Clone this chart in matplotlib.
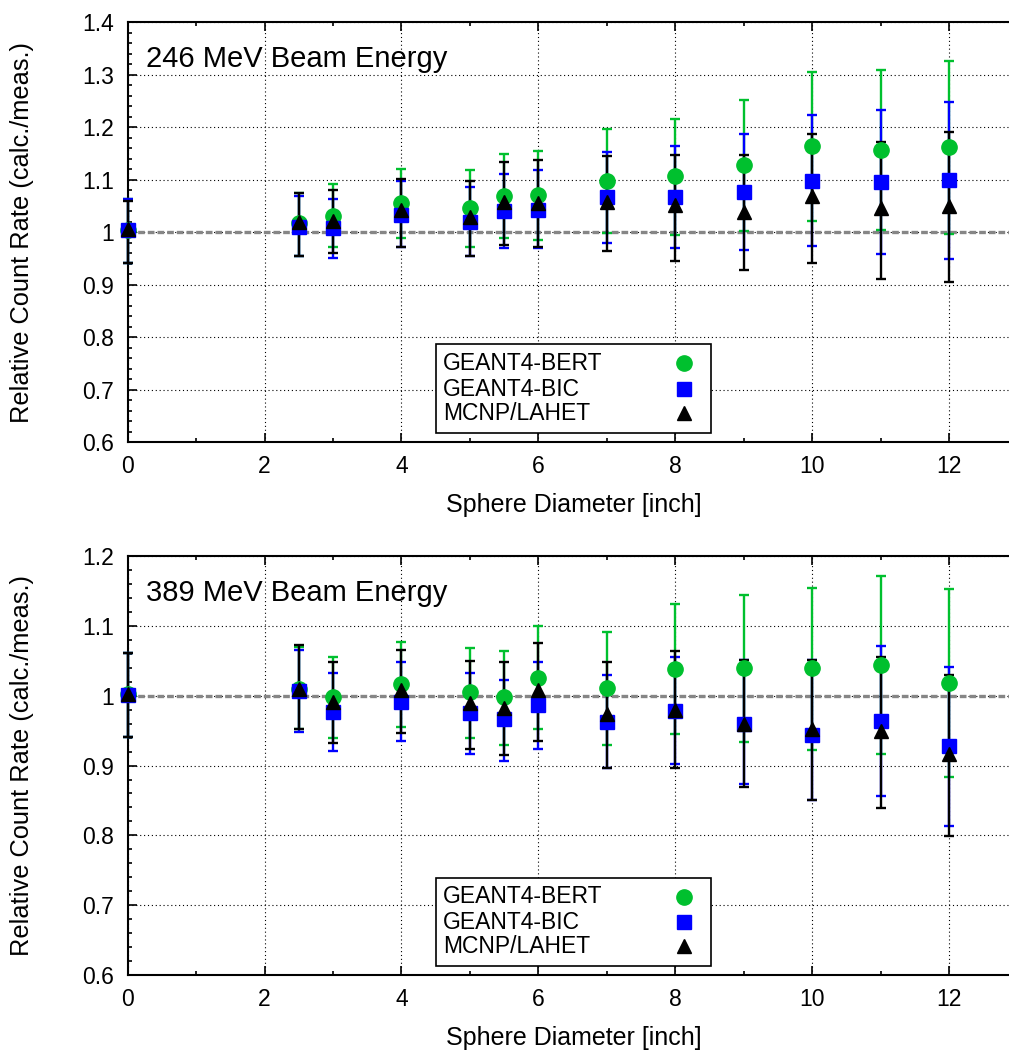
import numpy as np
import matplotlib
matplotlib.use("Agg")
import matplotlib.pyplot as plt
from matplotlib.ticker import MultipleLocator, FuncFormatter

plt.rcParams['font.family'] = ['Liberation Sans', 'DejaVu Sans']

# diametri delle sfere [inch]
diam = [0, 2.5, 3, 4, 5, 5.5, 6, 7, 8, 9, 10, 11, 12]

# 246 MeV
bert_246 = [1.004, 1.017, 1.031, 1.056, 1.045, 1.069, 1.070, 1.098, 1.107, 1.128, 1.164, 1.156, 1.162]
bert_246_lo = [0.942, 0.955, 0.971, 0.988, 0.971, 0.989, 0.985, 0.999, 0.995, 1.002, 1.022, 1.004, 0.997]
bert_246_hi = [1.063, 1.075, 1.091, 1.121, 1.118, 1.148, 1.154, 1.196, 1.216, 1.251, 1.305, 1.309, 1.326]

bic_246 = [1.003, 1.010, 1.007, 1.032, 1.020, 1.041, 1.042, 1.067, 1.067, 1.077, 1.098, 1.096, 1.100]
bic_246_lo = [0.942, 0.955, 0.950, 0.972, 0.954, 0.970, 0.969, 0.980, 0.969, 0.966, 0.973, 0.959, 0.949]
bic_246_hi = [1.063, 1.069, 1.063, 1.098, 1.085, 1.110, 1.118, 1.153, 1.164, 1.187, 1.223, 1.232, 1.248]

lahet_246 = [1.005, 1.020, 1.021, 1.042, 1.029, 1.058, 1.056, 1.058, 1.051, 1.039, 1.069, 1.045, 1.050]
lahet_246_lo = [0.942, 0.955, 0.961, 0.972, 0.954, 0.975, 0.972, 0.963, 0.945, 0.928, 0.942, 0.911, 0.905]
lahet_246_hi = [1.060, 1.075, 1.081, 1.102, 1.097, 1.134, 1.138, 1.145, 1.147, 1.147, 1.186, 1.171, 1.190]

# 389 MeV
bert_389 = [1.003, 1.010, 0.998, 1.017, 1.005, 0.998, 1.026, 1.011, 1.038, 1.040, 1.039, 1.044, 1.018]
bert_389_lo = [0.941, 0.952, 0.940, 0.955, 0.939, 0.930, 0.953, 0.930, 0.945, 0.934, 0.922, 0.916, 0.883]
bert_389_hi = [1.061, 1.070, 1.055, 1.077, 1.068, 1.064, 1.100, 1.091, 1.131, 1.144, 1.155, 1.171, 1.153]

bic_389 = [1.001, 1.007, 0.977, 0.991, 0.975, 0.966, 0.987, 0.962, 0.978, 0.959, 0.944, 0.964, 0.928]
bic_389_lo = [0.941, 0.948, 0.921, 0.935, 0.917, 0.907, 0.924, 0.897, 0.902, 0.874, 0.851, 0.856, 0.814]
bic_389_hi = [1.061, 1.066, 1.033, 1.048, 1.033, 1.022, 1.048, 1.030, 1.055, 1.051, 1.051, 1.071, 1.041]

lahet_389 = [1.002, 1.010, 0.991, 1.008, 0.989, 0.983, 1.008, 0.974, 0.979, 0.960, 0.953, 0.950, 0.916]
lahet_389_lo = [0.941, 0.952, 0.933, 0.946, 0.924, 0.915, 0.935, 0.897, 0.897, 0.869, 0.851, 0.839, 0.799]
lahet_389_hi = [1.061, 1.072, 1.048, 1.065, 1.050, 1.048, 1.076, 1.048, 1.064, 1.051, 1.051, 1.056, 1.029]

labels = ['GEANT4-BERT', 'GEANT4-BIC', 'MCNP/LAHET']
colors = ['#00c02e', '#0000ff', '#000000']
markers = ['o', 's', '^']
msizes = [11, 10, 10.5]

FS = 16.5


def draw_panel(ax, series, title, ymin, ymax):
    # linea di riferimento a 1
    ax.axhline(1.0, color='#868686', lw=2.4, ls=(0, (2.0, 0.9)), zorder=2)

    for (y, lo, hi), lab, c, m, ms in zip(series, labels, colors, markers, msizes):
        y = np.array(y)
        err = [y - np.array(lo), np.array(hi) - y]
        cont = ax.errorbar(diam, y, yerr=err, fmt=m, color=c, ms=ms, mec=c,
                           elinewidth=1.7, capsize=3.3, capthick=1.7, zorder=3)
        # i punti a x=0 stanno sull'asse: niente clipping
        for art in cont.get_children():
            art.set_clip_on(False)

    ax.set_xlim(0, 12.87)
    ax.set_ylim(ymin, ymax)
    ax.xaxis.set_major_locator(MultipleLocator(2))
    ax.xaxis.set_minor_locator(MultipleLocator(1))
    ax.yaxis.set_major_locator(MultipleLocator(0.1))
    ax.yaxis.set_minor_locator(MultipleLocator(0.02))
    ax.yaxis.set_major_formatter(FuncFormatter(lambda v, p: '%g' % round(v, 3)))
    ax.tick_params(which='both', direction='in', top=True, right=False, width=1.2)
    ax.tick_params(which='major', length=6.5, labelsize=FS)
    ax.tick_params(which='minor', length=3)
    ax.tick_params(axis='y', pad=10)
    ax.tick_params(axis='x', pad=9)
    ax.grid(True, which='major', color='black', ls=(0, (1, 2.5)), lw=0.8)
    ax.spines['right'].set_visible(False)
    for s in ['left', 'top', 'bottom']:
        ax.spines[s].set_linewidth(1.5)

    ax.set_xlabel('Sphere Diameter [inch]', fontsize=18)
    ax.xaxis.label.set_va('center')
    ax.xaxis.set_label_coords(0.506, -0.15)
    ax.set_ylabel('Relative Count Rate (calc./meas.)', fontsize=18.3)
    ax.yaxis.label.set_va('center')
    ax.yaxis.set_label_coords(-0.12, 0.5)

    ax.text(0.021, 0.893, title, transform=ax.transAxes, fontsize=21,
            ha='left', va='baseline')

    # legenda disegnata a mano (testo a sinistra, simbolo a destra)
    box = plt.Rectangle((0.3496, 0.0221), 0.3124, 0.2105, transform=ax.transAxes,
                        fill=True, fc='white', ec='black', lw=1.2, zorder=5)
    ax.add_patch(box)
    rows = [0.1874, 0.1262, 0.0683]
    for ry, lab, c, m, ms in zip(rows, labels, colors, markers, msizes):
        ax.text(0.3576, ry, lab, transform=ax.transAxes, fontsize=FS,
                ha='left', va='center', zorder=6)
        ax.plot([0.6313], [ry], marker=m, color=c, ms=ms, ls='none',
                transform=ax.transAxes, clip_on=False, zorder=6)


fig = plt.figure(figsize=(10.09, 10.5), dpi=100)
ax1 = fig.add_axes([0.1264, 0.579, 0.8736, 0.4])
ax2 = fig.add_axes([0.1264, 0.0714, 0.8736, 0.399])

draw_panel(ax1, [(bert_246, bert_246_lo, bert_246_hi),
                 (bic_246, bic_246_lo, bic_246_hi),
                 (lahet_246, lahet_246_lo, lahet_246_hi)],
           '246 MeV Beam Energy', 0.6, 1.4)
draw_panel(ax2, [(bert_389, bert_389_lo, bert_389_hi),
                 (bic_389, bic_389_lo, bic_389_hi),
                 (lahet_389, lahet_389_lo, lahet_389_hi)],
           '389 MeV Beam Energy', 0.6, 1.2)

fig.savefig('out.png', dpi=100)
